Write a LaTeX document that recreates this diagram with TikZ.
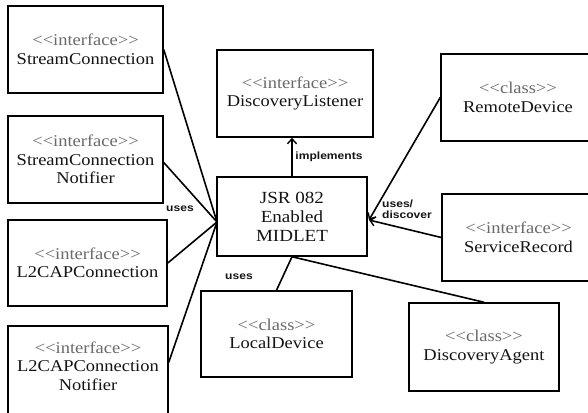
\documentclass[tikz,border=0pt]{standalone}
\usepackage{fontspec}
\setmainfont{Liberation Serif}[FakeStretch=1.12]
\newfontfamily\lblfont{Liberation Sans}[FakeStretch=1.15]
\usetikzlibrary{arrows.meta}
\definecolor{stereo}{HTML}{6A6A6A}
\definecolor{ink}{HTML}{141414}
\tikzset{
  umlbox/.style={draw=black, line width=1.5pt, fill=white, align=center,
    text=ink, inner sep=0pt, font=\fontsize{16.5}{18.5}\selectfont},
  wire/.style={line width=1.6pt, black},
  barb/.style={-{Straight Barb[length=5pt,width=9pt,line width=1.4pt]}},
  rel/.style={font=\lblfont\bfseries\fontsize{10.5}{11.5}\selectfont, text=ink,
    inner sep=0pt, align=left}
}
\newcommand{\stereo}[1]{{\color{stereo}<{}<#1>{}>}}
\begin{document}
\begin{tikzpicture}[x=1pt, y=-1pt]
  \useasboundingbox (0,0) rectangle (588,412);

  % interfaces on the left
  \node[umlbox, minimum width=155pt, minimum height=87pt] (sc) at (85.5,49.5)
    {\stereo{interface}\\StreamConnection};
  \node[umlbox, minimum width=155pt, minimum height=87pt] (scn) at (85.5,159.5)
    {\stereo{interface}\\StreamConnection\\Notifier};
  \node[umlbox, minimum width=159pt, minimum height=86pt] (l2c) at (87.5,263)
    {\stereo{interface}\\L2CAPConnection};
  \node[umlbox, minimum width=160pt, minimum height=94pt] (l2n) at (88,373) {};
  \node[umlbox, draw=none, fill=none] (l2nt) at (88,366)
    {\stereo{interface}\\L2CAPConnection\\Notifier};

  % central MIDlet and the listener it implements
  \node[umlbox, minimum width=156pt, minimum height=87pt] (dl) at (295,93.5)
    {\stereo{interface}\\DiscoveryListener};
  \node[umlbox, minimum width=150pt, minimum height=79pt,
        font=\fontsize{17}{19}\selectfont] (mid) at (292,216.5)
    {JSR 082\\Enabled\\MIDLET};

  % right-hand classes
  \node[umlbox, minimum width=154pt, minimum height=87pt] (rd) at (518,97.5)
    {\stereo{class}\\RemoteDevice};
  \node[umlbox, minimum width=153pt, minimum height=87pt] (sr) at (518.5,237.5)
    {\stereo{interface}\\ServiceRecord};

  % bottom classes
  \node[umlbox, minimum width=151pt, minimum height=86pt] (ld) at (276.5,334)
    {\stereo{class}\\LocalDevice};
  \node[umlbox, minimum width=150pt, minimum height=88pt] (da) at (484,347)
    {\stereo{class}\\DiscoveryAgent};

  % meeting points on the MIDlet sides
  \coordinate (hubL) at (217,222);
  \coordinate (hubR) at (369,220);

  % connectors
  \draw[wire] (sc.east) -- (hubL);
  \draw[wire] ([yshift=-3pt]scn.east) -- (hubL);
  \draw[wire] (l2c.east) -- (hubL);
  \draw[wire] ([yshift=-37pt]l2n.north east) -- (hubL);
  \draw[wire, barb] (mid.north) -- (mid.north |- dl.south);
  \draw[wire, barb] (rd.west) -- (hubR);
  \draw[wire, barb] (sr.west) -- (hubR);
  \draw[wire] (mid.south) -- (ld.north);
  \draw[wire] (mid.south) -- (da.north);

  % relationship labels
  \node[rel] (lblimpl) at (329,157) {implements};
  \node[rel] (lblusesL) at (180,209) {uses};
  \node[rel, anchor=west] (lbldisc) at (382,209) {uses/\\discover};
  \node[rel] (lblusesB) at (239,277) {uses};
\end{tikzpicture}
\end{document}
